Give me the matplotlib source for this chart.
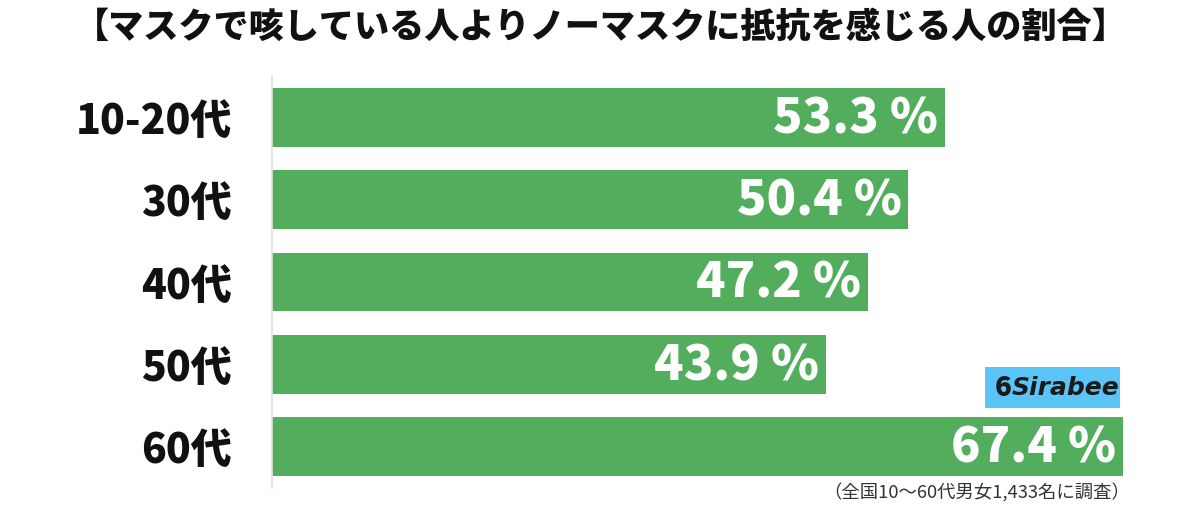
import matplotlib.pyplot as plt
import matplotlib.patches as patches

plt.rcParams['font.family'] = ['Noto Sans CJK JP', 'DejaVu Sans']

BAR_COLOR = '#52ad5d'
AXIS_COLOR = '#e0e0e0'
LOGO_BG = '#5bc4f6'

categories = ['10-20代', '30代', '40代', '50代', '60代']
values = [53.3, 50.4, 47.2, 43.9, 67.4]
title = '【マスクで咳している人よりノーマスクに抵抗を感じる人の割合】'
note = '（全国10〜60代男女1,433名に調査）'

W, H = 1200, 511
fig = plt.figure(figsize=(W / 100, H / 100), dpi=100)
fig.patch.set_facecolor('white')

# axes placed in pixel coordinates: x 272..1200, y 76..488
ax = fig.add_axes([272 / W, 1 - 488 / H, (W - 272) / W, (488 - 76) / H])
px_per_pct = (1123 - 272) / 67.4
ax.set_xlim(0, (W - 272) / px_per_pct)
ax.set_ylim(4.5, -0.5)

ypos = list(range(len(categories)))
ax.barh(ypos, values, height=0.715, color=BAR_COLOR, edgecolor='none')

for y, v in zip(ypos, values):
    ax.text(v - 0.55, y + 0.02, f'{v:.1f} %', ha='right', va='center',
            fontsize=35, fontweight='black', color='white')

ax.set_yticks(ypos)
ax.set_yticklabels(categories, fontsize=29.5, fontweight='black', color='#111111')
ax.tick_params(axis='y', length=0, pad=29)
ax.set_xticks([])
for s in ['top', 'right', 'bottom']:
    ax.spines[s].set_visible(False)
ax.spines['left'].set_color(AXIS_COLOR)
ax.spines['left'].set_linewidth(1.2)
ax.set_facecolor('none')

fig.text(601 / W, 1 - 27 / H, title, ha='center', va='center',
         fontsize=25.3, fontweight='black', color='#111111')

fig.text(1130 / W, 1 - 493 / H, note, ha='right', va='center',
         fontsize=13.2, color='#333333')

# Sirabee logo
fig.patches.append(patches.Rectangle((985 / W, 1 - 408 / H), 135 / W, 41 / H,
                                     transform=fig.transFigure,
                                     facecolor=LOGO_BG, edgecolor='none'))
fig.text(1003 / W, 1 - 388 / H, '6', ha='center', va='center',
         fontsize=20, fontweight='black', color='#1a1a1a')
fig.text(1066 / W, 1 - 388 / H, 'Sirabee', ha='center', va='center',
         fontsize=18, fontweight='bold', fontstyle='italic', color='#1a1a1a',
         family='DejaVu Sans')

fig.savefig('out.png', dpi=100)
